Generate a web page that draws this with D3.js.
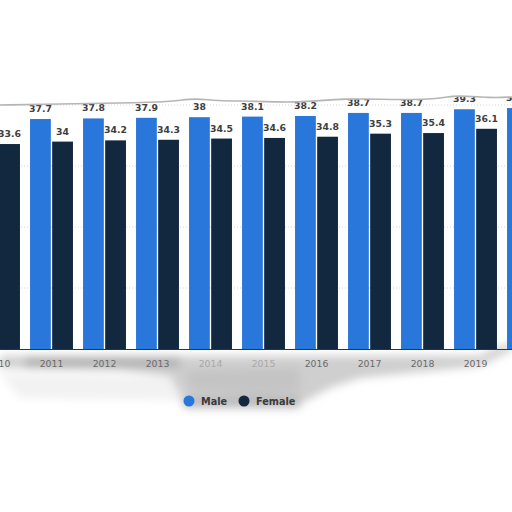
<!DOCTYPE html>
<html><head><meta charset="utf-8">
<script src="https://cdn.jsdelivr.net/npm/d3@7/dist/d3.min.js"></script>
<style>html,body{margin:0;padding:0;background:#fff;}svg{display:block;}</style>
</head><body>
<script>
const years = ["2010","2011","2012","2013","2014","2015","2016","2017","2018","2019","2020"];
const maleValues = [37.4,37.7,37.8,37.9,38,38.1,38.2,38.7,38.7,39.3,39.5];
const femaleValues = [33.6,34,34.2,34.3,34.5,34.6,34.8,35.3,35.4,36.1,36.3];
const seriesNames = ["Male","Female"];
const seriesColors = ["#2a77dc","#12283f"];
const gridTicks = [10,20,30,40];

const W=512,H=512;
const svg=d3.select("body").append("svg").attr("width",W).attr("height",H);
const defs=svg.append("defs");
const f=defs.append("filter").attr("id","blur").attr("x","-20%").attr("y","-50%").attr("width","140%").attr("height","200%");
f.append("feGaussianBlur").attr("stdDeviation",4);
const f2=defs.append("filter").attr("id","blur1");
f2.append("feGaussianBlur").attr("stdDeviation",0.7);

// torn top edge
const tearPts=[[0,105],[60,104],[120,103],[170,102],[195,98],[215,101],[256,101],[295,103],[346,98],[396,100],[440,99],[455,95],[490,98],[512,97]];
const tearLine=d3.line().curve(d3.curveBasis);
defs.append("clipPath").attr("id","paper").append("path")
  .attr("d",tearLine(tearPts)+"L512,512L0,512Z");

const x0=d3.scaleBand().domain(years).range([-28,-28+53*years.length]).paddingInner(0.19).paddingOuter(0.095);
const x1=d3.scaleBand().domain(seriesNames).range([0,x0.bandwidth()]).paddingInner(0.06);
const y=d3.scaleLinear().domain([0,40]).range([349,105]);

// shadows under torn bottom
const sh=svg.append("g").attr("filter","url(#blur)");
sh.append("path").attr("d","M0,374 L170,376 L200,388 L180,400 L20,398 Z").attr("fill","#f2f2f2");
sh.append("path").attr("d","M0,356 L480,356 L495,348 L512,343 L512,350 L480,366 L420,372 L360,378 L330,388 L300,404 L200,406 L178,392 L170,376 L120,370 L0,368 Z").attr("fill","#cfcfcf");
sh.append("path").attr("d","M25,357 L180,357 L180,368 L25,368 Z").attr("fill","#b4b4b4");
sh.append("path").attr("d","M185,370 L300,368 L300,390 L260,394 L190,390 Z").attr("fill","#c4c4c4");
sh.append("path").attr("d","M180,397 L300,395 L300,408 L185,408 Z").attr("fill","#bcbcbc");

const g=svg.append("g").attr("clip-path","url(#paper)");
// gridlines
g.selectAll(".grid").data(gridTicks).join("line")
  .attr("x1",0).attr("x2",W).attr("y1",d=>y(d)).attr("y2",d=>y(d))
  .attr("stroke","#d6d6d6").attr("stroke-dasharray","1,2");

const rows=years.map((yr,i)=>({year:yr,vals:[maleValues[i],femaleValues[i]]}));
const grp=g.selectAll(".grp").data(rows).join("g").attr("transform",d=>`translate(${x0(d.year)},0)`);
grp.selectAll("rect").data(d=>d.vals.map((v,j)=>({k:seriesNames[j],v,j}))).join("rect")
  .attr("x",d=>x1(d.k)).attr("width",x1.bandwidth())
  .attr("y",d=>y(d.v)).attr("height",d=>y(0)-y(d.v))
  .attr("fill",d=>seriesColors[d.j]);
grp.selectAll("text").data(d=>d.vals.map((v,j)=>({k:seriesNames[j],v,j}))).join("text")
  .attr("x",d=>x1(d.k)+x1.bandwidth()/2).attr("y",d=>y(d.v)-7)
  .attr("text-anchor","middle").attr("font-family","DejaVu Sans").attr("font-weight","bold")
  .attr("font-size",9.3).attr("fill","#3e3e3e").text(d=>d.v);

// top tear line
svg.append("path").attr("d",tearLine(tearPts)).attr("fill","none").attr("stroke","#b5b5b5").attr("stroke-width",1.6).attr("filter","url(#blur1)");

// x axis
const ax=svg.append("g").attr("transform","translate(0,349)")
  .call(d3.axisBottom(x0).tickSize(0).tickPadding(11));
ax.select(".domain").attr("stroke","#333").attr("d","M0,0.5H512");
ax.selectAll("text").attr("font-family","DejaVu Sans").attr("font-size",9.3)
  .attr("fill",d=>(d==="2014"||d==="2015")?"#a8a8a8":"#6a6a6a");

// legend
const lg=svg.append("g").attr("transform","translate(189,401)");
const items=lg.selectAll("g").data(seriesNames).join("g").attr("transform",(d,i)=>`translate(${i*55},0)`);
items.append("circle").attr("r",5.5).attr("fill",(d,i)=>seriesColors[i]);
items.append("text").attr("x",12).attr("y",3.5).attr("font-family","DejaVu Sans").attr("font-weight","bold")
  .attr("font-size",9.7).attr("fill","#3a3a3a").text(d=>d);
</script>
</body></html>
